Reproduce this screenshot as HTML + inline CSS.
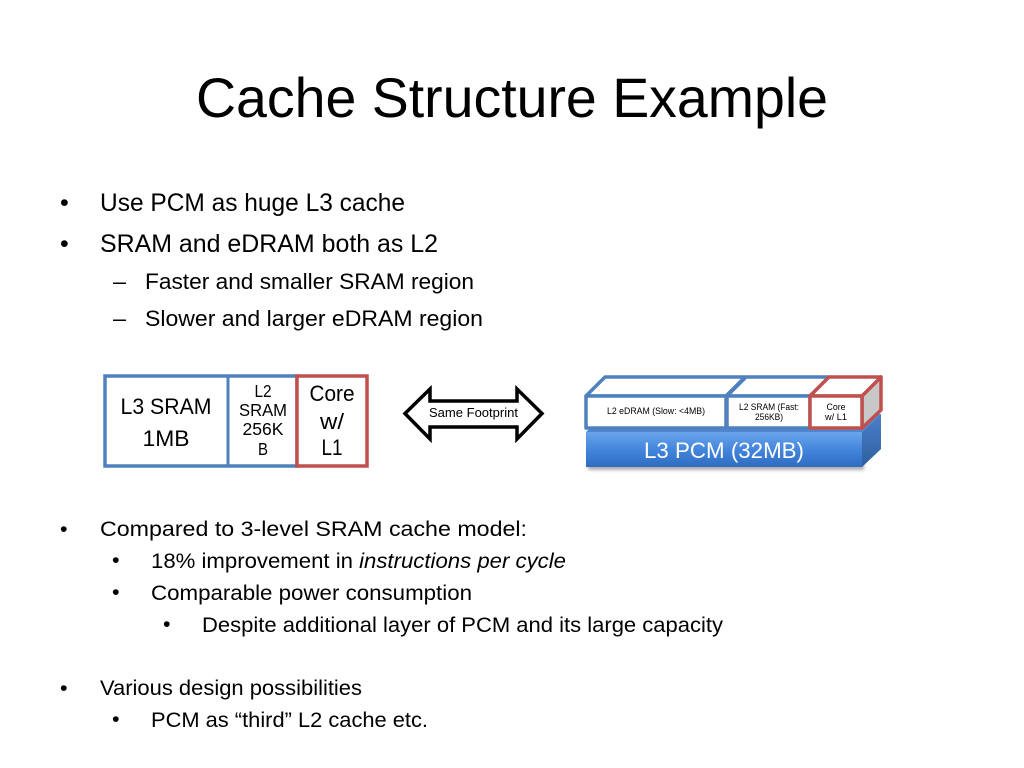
<!DOCTYPE html>
<html><head><meta charset="utf-8"><style>
html,body{margin:0;padding:0;background:#fff}
svg{display:block}
text{font-family:"Liberation Sans",sans-serif;fill:#000}
</style></head><body>
<svg width="1024" height="768" viewBox="0 0 1024 768" xmlns="http://www.w3.org/2000/svg">
<defs>
<linearGradient id="g" x1="0" y1="0" x2="0" y2="1"><stop offset="0" stop-color="#6aa5ec"/><stop offset="0.5" stop-color="#4386dc"/><stop offset="1" stop-color="#2f6cc0"/></linearGradient>
<linearGradient id="gs" x1="0" y1="0" x2="0" y2="1"><stop offset="0" stop-color="#4a7fc8"/><stop offset="1" stop-color="#2f5f9f"/></linearGradient>
<filter id="b" x="-10%" y="-30%" width="120%" height="160%"><feGaussianBlur stdDeviation="1.500"/></filter>
</defs>
<text x="196" y="117" font-size="56" textLength="632" lengthAdjust="spacingAndGlyphs">Cache Structure Example</text>

<g font-size="25">
<text x="60" y="211">•</text>
<text x="100" y="211" textLength="305" lengthAdjust="spacingAndGlyphs">Use PCM as huge L3 cache</text>
<text x="60" y="252">•</text>
<text x="100" y="252" textLength="338" lengthAdjust="spacingAndGlyphs">SRAM and eDRAM both as L2</text>
</g>
<g font-size="22">
<text x="113" y="289" textLength="13" lengthAdjust="spacingAndGlyphs">–</text>
<text x="145" y="289" textLength="329" lengthAdjust="spacingAndGlyphs">Faster and smaller SRAM region</text>
<text x="113" y="326" textLength="13" lengthAdjust="spacingAndGlyphs">–</text>
<text x="145" y="326" textLength="338" lengthAdjust="spacingAndGlyphs">Slower and larger eDRAM region</text>
</g>

<!-- left diagram -->
<rect x="105" y="376" width="192" height="90" fill="#fff" stroke="#4f81bd" stroke-width="3.500"/>
<line x1="228" y1="376" x2="228" y2="466" stroke="#4f81bd" stroke-width="3"/>
<rect x="297" y="376" width="70" height="90" fill="#fff" stroke="#c0504d" stroke-width="3.500"/>
<g font-size="22" text-anchor="middle">
<text x="166" y="414" textLength="91" lengthAdjust="spacingAndGlyphs">L3 SRAM</text>
<text x="166" y="446" textLength="47" lengthAdjust="spacingAndGlyphs">1MB</text>
<text x="332" y="401" textLength="45" lengthAdjust="spacingAndGlyphs">Core</text>
<text x="332" y="429" textLength="24" lengthAdjust="spacingAndGlyphs">w/</text>
<text x="332" y="455" textLength="21" lengthAdjust="spacingAndGlyphs">L1</text>
</g>
<g font-size="17.500" text-anchor="middle">
<text x="263" y="397" textLength="17" lengthAdjust="spacingAndGlyphs">L2</text>
<text x="263" y="416" textLength="48" lengthAdjust="spacingAndGlyphs">SRAM</text>
<text x="263" y="435" textLength="41" lengthAdjust="spacingAndGlyphs">256K</text>
<text x="263" y="455" textLength="10" lengthAdjust="spacingAndGlyphs">B</text>
</g>

<!-- arrow -->
<polygon points="405,413.500 430,389 430,401 517,401 517,389 542,413.500 517,439 517,427 430,427 430,439" fill="#fff" stroke="#000" stroke-width="3.500"/>
<text x="473.500" y="417" font-size="12.500" text-anchor="middle" textLength="89" lengthAdjust="spacingAndGlyphs">Same Footprint</text>

<!-- right diagram: PCM -->
<rect x="588" y="436" width="276" height="34" fill="#777" opacity=".6" filter="url(#b)"/>
<polygon points="586,432 605,414 881,414 862,432" fill="#4f86d0"/>
<polygon points="862,432 881,414 881,449 862,467" fill="url(#gs)"/>
<rect x="586" y="432" width="276" height="35" fill="url(#g)"/>
<text x="724" y="458" font-size="22" text-anchor="middle" textLength="160" lengthAdjust="spacingAndGlyphs" style="fill:#fff">L3 PCM (32MB)</text>

<!-- right diagram: upper -->
<g stroke-linejoin="round">
<polygon points="586,396 605,377 745,377 726,396" fill="#fff" stroke="#4f81bd" stroke-width="3.500"/>
<polygon points="727,396 746,377 829,377 810,396" fill="#fff" stroke="#4f81bd" stroke-width="3.500"/>
<rect x="586" y="396" width="140" height="32" fill="#fff" stroke="#4f81bd" stroke-width="3.500"/>
<rect x="727" y="396" width="83" height="32" fill="#fff" stroke="#4f81bd" stroke-width="3.500"/>
<polygon points="862,396 881,377 881,410 862,428" fill="#c8c8c8" stroke="#c0504d" stroke-width="3.500"/>
<polygon points="810,396 829,377 881,377 862,396" fill="#fff" stroke="#c0504d" stroke-width="3.500"/>
<rect x="810" y="396" width="52" height="32" fill="#fff" stroke="#c0504d" stroke-width="3.500"/>
</g>
<g font-size="9" text-anchor="middle">
<text x="656" y="414" textLength="98" lengthAdjust="spacingAndGlyphs">L2 eDRAM (Slow: &lt;4MB)</text>
<text x="769" y="410" textLength="60" lengthAdjust="spacingAndGlyphs">L2 SRAM (Fast:</text>
<text x="769" y="420" textLength="28" lengthAdjust="spacingAndGlyphs">256KB)</text>
<text x="836" y="410" textLength="19" lengthAdjust="spacingAndGlyphs">Core</text>
<text x="836" y="420" textLength="22" lengthAdjust="spacingAndGlyphs">w/ L1</text>
</g>

<!-- lower list -->
<g font-size="21.500">
<text x="60" y="536">•</text>
<text x="100" y="536" textLength="427" lengthAdjust="spacingAndGlyphs">Compared to 3-level SRAM cache model:</text>
<text x="112" y="567">•</text>
<text x="151" y="568" textLength="415" lengthAdjust="spacingAndGlyphs">18% improvement in <tspan font-style="italic">instructions per cycle</tspan></text>
<text x="112" y="599">•</text>
<text x="151" y="600" textLength="321" lengthAdjust="spacingAndGlyphs">Comparable power consumption</text>
<text x="163" y="631">•</text>
<text x="202" y="632" textLength="521" lengthAdjust="spacingAndGlyphs">Despite additional layer of PCM and its large capacity</text>
<text x="60" y="695">•</text>
<text x="100" y="695" textLength="262" lengthAdjust="spacingAndGlyphs">Various design possibilities</text>
<text x="112" y="726">•</text>
<text x="151" y="727" textLength="277" lengthAdjust="spacingAndGlyphs">PCM as “third” L2 cache etc.</text>
</g>
</svg>
</body></html>
